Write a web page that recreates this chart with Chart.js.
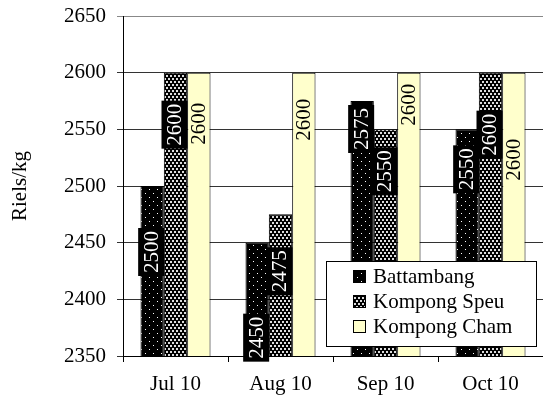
<!DOCTYPE html>
<html>
<head>
<meta charset="utf-8">
<script src="https://cdn.jsdelivr.net/npm/chart.js@4.4.0/dist/chart.umd.min.js"></script>
<style>
    html, body { margin: 0; padding: 0; background: #fff; }
    #wrap { width: 543px; height: 400px; position: relative; }
</style>
</head>
<body>
<div id="wrap"><canvas id="grafico"></canvas></div>
<script>
// dados (Riels/kg)
const meses = ['Jul 10', 'Aug 10', 'Sep 10', 'Oct 10'];
const battambang = [2500, 2450, 2575, 2550];
const kompongSpeu = [2600, 2475, 2550, 2600];
const kompongCham = [2600, 2600, 2600, 2600];
const eixoMin = 2350;
const eixoMax = 2650;
const eixoPasso = 50;

const FONTE = '"Liberation Serif", serif';
const TAM = 21;

const canvas = document.getElementById('grafico');
const ctx = canvas.getContext('2d');

// padrões de preenchimento (pontilhados brancos sobre preto)
function padrao(w, h, fundo, desenho) {
    const c = document.createElement('canvas');
    c.width = w; c.height = h;
    const g = c.getContext('2d');
    g.fillStyle = fundo;
    g.fillRect(0, 0, w, h);
    desenho(g);
    return ctx.createPattern(c, 'repeat');
}

const pontosEsparsos = padrao(8, 8, '#000', g => {
    g.fillStyle = '#fff';
    g.fillRect(1, 1, 1, 1);
    g.fillRect(5, 5, 1, 1);
});

const pontosDensos = padrao(4, 6, '#000', g => {
    g.fillStyle = '#ddd';
    g.fillRect(0, 0, 2, 2);
    g.fillRect(2, 3, 2, 2);
});

// rótulos verticais dentro das barras
// ajuste = deslocamento manual (px) de cada rótulo, como no original
const rotulos = {
    id: 'rotulos',
    afterDatasetsDraw(chart, args, opts) {
        const c = chart.ctx;
        chart.data.datasets.forEach((ds, i) => {
            const meta = chart.getDatasetMeta(i);
            meta.data.forEach((bar, j) => {
                const txt = String(ds.data[j]);
                const cy = bar.y + opts.desloc + opts.ajuste[i][j];
                c.save();
                c.translate(bar.x - (i < 2 ? 1 : 0), cy);
                c.rotate(-Math.PI / 2);
                c.font = TAM + 'px ' + FONTE;
                const w = c.measureText(txt).width;
                if (i < 2) {
                    c.fillStyle = '#000';
                    c.fillRect(-w / 2 - 3, -13, w + 6, 26);
                    c.fillStyle = '#fff';
                } else {
                    c.fillStyle = '#000';
                }
                c.textAlign = 'center';
                c.textBaseline = 'middle';
                c.fillText(txt, 0, 1);
                c.restore();
            });
        });
    }
};

// legenda dentro da área do gráfico, canto inferior direito
const legendaCaixa = {
    id: 'legendaCaixa',
    afterDraw(chart) {
        const c = chart.ctx;
        const a = chart.chartArea;
        const x0 = a.right - 217, x1 = a.right - 7;
        const y0 = a.bottom - 95, y1 = a.bottom - 10;
        c.save();
        c.fillStyle = '#fff';
        c.fillRect(x0, y0, x1 - x0, y1 - y0);
        c.strokeStyle = '#000';
        c.lineWidth = 1;
        c.strokeRect(x0 + 0.5, y0 + 0.5, x1 - x0, y1 - y0);
        c.font = TAM + 'px ' + FONTE;
        c.textBaseline = 'middle';
        chart.data.datasets.forEach((ds, i) => {
            const cy = y0 + 15 + i * 25;
            c.fillStyle = ds.backgroundColor;
            c.fillRect(x0 + 27, cy - 6, 13, 13);
            c.strokeStyle = '#000';
            c.strokeRect(x0 + 27.5, cy - 5.5, 12, 12);
            c.fillStyle = '#000';
            c.fillText(ds.label, x0 + 47, cy + 1);
        });
        c.restore();
    }
};

new Chart(ctx, {
    type: 'bar',
    data: {
        labels: meses,
        datasets: [
            { label: 'Battambang', data: battambang, backgroundColor: pontosEsparsos },
            { label: 'Kompong Speu', data: kompongSpeu, backgroundColor: pontosDensos },
            { label: 'Kompong Cham', data: kompongCham, backgroundColor: '#ffffcc' }
        ]
    },
    options: {
        responsive: true,
        maintainAspectRatio: false,
        animation: false,
        layout: { padding: { top: 16, right: 0, left: 0, bottom: 0 } },
        datasets: {
            bar: {
                categoryPercentage: 0.667,
                barPercentage: 1,
                borderColor: '#000',
                borderWidth: 1,
                borderSkipped: false
            }
        },
        plugins: {
            legend: { display: false },
            tooltip: { enabled: false },
            rotulos: {
                desloc: 50,
                ajuste: [
                    [16, 45, -22, -10],
                    [2, 7, -8, 12],
                    [1, -3, -18, 37]
                ]
            }
        },
        scales: {
            x: {
                afterFit: s => { s.height = 44; s.paddingLeft = 0; s.paddingRight = 0; },
                border: { color: '#000' },
                grid: { drawOnChartArea: false, tickLength: 6, color: '#000' },
                ticks: { color: '#000', padding: 10, font: { family: FONTE, size: TAM } }
            },
            y: {
                min: eixoMin,
                max: eixoMax,
                afterFit: s => { s.width = 123; s.paddingTop = 0; s.paddingBottom = 0; },
                border: { color: '#000' },
                grid: {
                    tickLength: 6,
                    color: c => (c.tick && c.tick.value === eixoMax) ? '#888' : '#333'
                },
                ticks: {
                    stepSize: eixoPasso,
                    color: '#000',
                    padding: 11,
                    callback: v => String(v),
                    font: { family: FONTE, size: TAM }
                },
                title: {
                    display: true,
                    text: 'Riels/kg',
                    color: '#000',
                    padding: { top: 8, bottom: 0 },
                    font: { family: FONTE, size: TAM }
                }
            }
        }
    },
    plugins: [rotulos, legendaCaixa]
});
</script>
</body>
</html>
